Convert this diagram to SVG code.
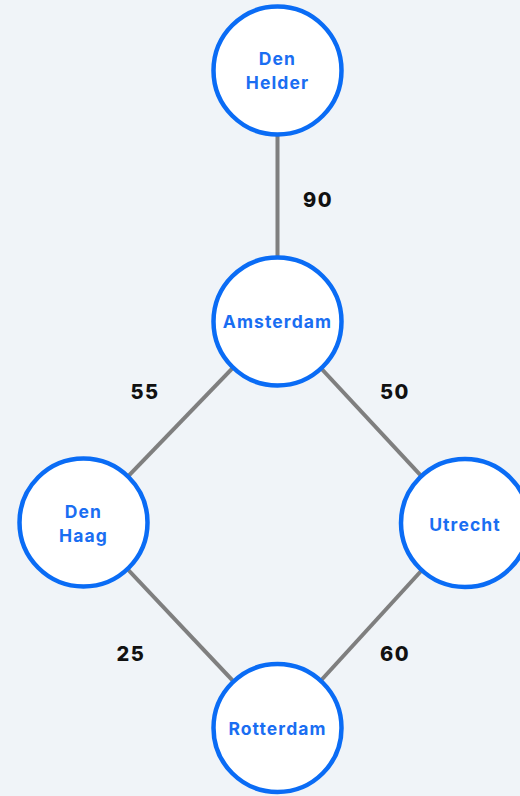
<svg xmlns="http://www.w3.org/2000/svg" width="520" height="796" viewBox="0 0 520 796">
  <style>
    .edge { stroke: #7f7f7f; stroke-width: 4; fill: none; }
    .node circle { fill: #ffffff; stroke: #0a6cf5; stroke-width: 4.5; }
    .node text { fill: #1a6ef2; font-family: Inter, "Open Sans", "Liberation Sans", sans-serif; font-weight: 700; font-size: 17.5px; letter-spacing: 1.1px; text-anchor: middle; }
    .weight { fill: #111111; font-family: Inter, "Open Sans", "Liberation Sans", sans-serif; font-weight: 800; font-size: 20px; letter-spacing: 1.5px; text-anchor: middle; }
  </style>
  <rect width="520" height="796" fill="#f0f4f8"/>

  <!-- connectors between cities -->
  <g id="edges">
    <line class="edge" x1="277.5" y1="70.5" x2="277.5" y2="321.5"/>
    <line class="edge" x1="277.5" y1="321.5" x2="83.5" y2="522.5"/>
    <line class="edge" x1="277.5" y1="321.5" x2="465" y2="523"/>
    <line class="edge" x1="83.5" y1="522.5" x2="277.5" y2="728"/>
    <line class="edge" x1="465" y1="523" x2="277.5" y2="728"/>
    <text class="weight" x="318" y="207">90</text>
    <text class="weight" x="145" y="399">55</text>
    <text class="weight" x="395" y="399">50</text>
    <text class="weight" x="131" y="661">25</text>
    <text class="weight" x="395" y="661">60</text>
  </g>

  <g id="den-helder" class="node">
    <circle cx="277.5" cy="70.5" r="64"/>
    <text x="277.5" y="65">Den</text>
    <text x="277.5" y="89">Helder</text>
  </g>
  <g id="amsterdam" class="node">
    <circle cx="277.5" cy="321.5" r="64"/>
    <text x="277.5" y="328">Amsterdam</text>
  </g>
  <g id="den-haag" class="node">
    <circle cx="83.5" cy="522.5" r="64"/>
    <text x="83.5" y="518">Den</text>
    <text x="83.5" y="542">Haag</text>
  </g>
  <g id="utrecht" class="node">
    <circle cx="465" cy="523" r="64"/>
    <text x="465" y="531">Utrecht</text>
  </g>
  <g id="rotterdam" class="node">
    <circle cx="277.5" cy="728" r="64"/>
    <text x="277.5" y="735">Rotterdam</text>
  </g>
</svg>
